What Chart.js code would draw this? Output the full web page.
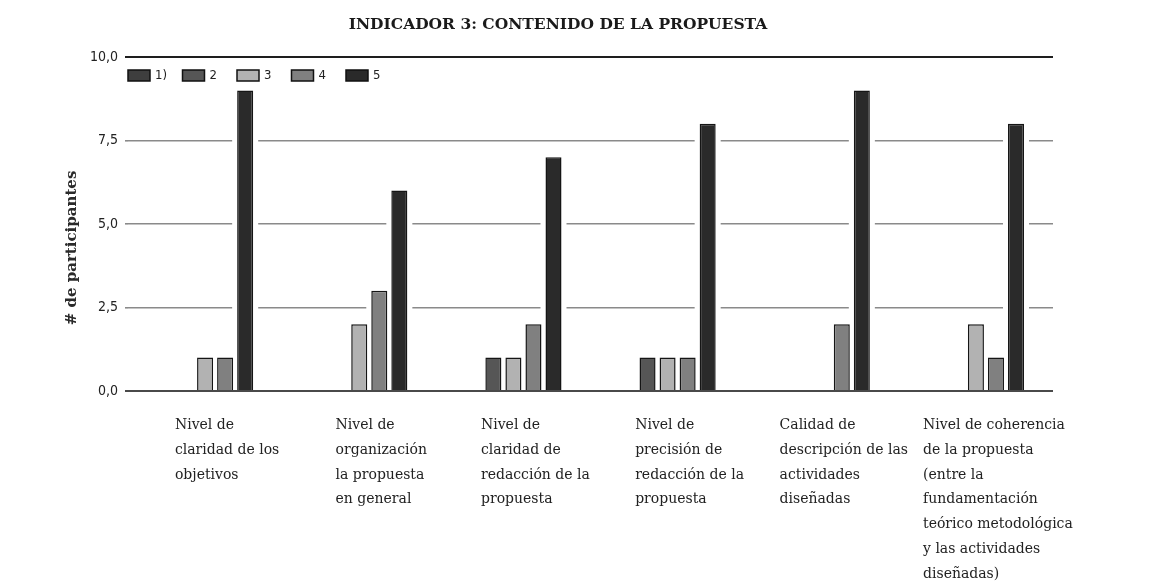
<!DOCTYPE html>
<html>
<head>
<meta charset="utf-8">
<script src="https://cdn.jsdelivr.net/npm/chart.js@4/dist/chart.umd.min.js"></script>
<style>
  body { margin: 0; background: #fff; }
  #wrap { width: 1151px; height: 586px; }
</style>
</head>
<body>
<div id="wrap"><canvas id="chart" width="1151" height="586"></canvas></div>
<script>
// Categories (each one already split in lines like the original)
const categories = [
    ['Nivel de', 'claridad de los', 'objetivos'],
    ['Nivel de', 'organización', 'la propuesta', 'en general'],
    ['Nivel de', 'claridad de', 'redacción de la', 'propuesta'],
    ['Nivel de', 'precisión de', 'redacción de la', 'propuesta'],
    ['Calidad de', 'descripción de las', 'actividades', 'diseñadas'],
    ['Nivel de coherencia', 'de la propuesta', '(entre la', 'fundamentación', 'teórico metodológica', 'y las actividades', 'diseñadas)']
];

const seriesNames = ['1)', '2', '3', '4', '5'];
const serie1 = [0, 0, 0, 0, 0, 0];
const serie2 = [0, 0, 1, 1, 0, 0];
const serie3 = [1, 2, 1, 1, 0, 2];
const serie4 = [1, 3, 2, 1, 2, 1];
const serie5 = [9, 6, 7, 8, 9, 8];

const yTicks = [0, 2.5, 5, 7.5, 10];

const chartTitle = 'INDICADOR 3: CONTENIDO DE LA PROPUESTA';
const yTitle = '# de participantes';

const colors = ['#3e3e3e', '#565656', '#b2b2b2', '#808080', '#2a2a2a'];

const SERIF = '"DejaVu Serif", "Liberation Serif", serif';
const NARROW = '"DejaVu Sans Condensed", "Liberation Sans Narrow", sans-serif';

const allSeries = [serie1, serie2, serie3, serie4, serie5];

const datasets = allSeries.map((data, i) => ({
    label: seriesNames[i],
    data: data,
    backgroundColor: colors[i],
    borderColor: '#151515',
    borderWidth: 1.5,
    barPercentage: 0.8,
    categoryPercentage: 0.65
}));

// white halo round the bars, the gridlines stop short of them in the original
const haloPlugin = {
    id: 'halo',
    beforeDatasetsDraw(chart) {
        const ctx = chart.ctx;
        ctx.save();
        ctx.fillStyle = '#fff';
        chart.data.datasets.forEach((ds, i) => {
            chart.getDatasetMeta(i).data.forEach((bar, j) => {
                if (!ds.data[j]) return;
                const p = bar.getProps(['x', 'y', 'base', 'width'], true);
                ctx.fillRect(p.x - p.width / 2 - 5, p.y, p.width + 10, p.base - p.y - 1.5);
            });
        });
        ctx.restore();
    }
};

// titles, legend and multi-line category labels (left aligned like the original)
const textPlugin = {
    id: 'textPlugin',
    afterDraw(chart) {
        const ctx = chart.ctx;
        const area = chart.chartArea;
        const xScale = chart.scales.x;
        ctx.save();

        // title
        ctx.fillStyle = '#1a1a1a';
        ctx.font = 'bold 15.5px ' + SERIF;
        ctx.textAlign = 'center';
        ctx.textBaseline = 'middle';
        ctx.fillText(chartTitle, 558, 25);

        // y title
        ctx.save();
        ctx.translate(72, 248);
        ctx.rotate(-Math.PI / 2);
        ctx.font = 'bold 15px ' + SERIF;
        ctx.fillStyle = '#2a2a2a';
        ctx.fillText(yTitle, 0, 0);
        ctx.restore();

        // legend
        ctx.font = '13px ' + NARROW;
        ctx.textAlign = 'left';
        ctx.textBaseline = 'middle';
        seriesNames.forEach((name, i) => {
            const bx = area.left + i * 54.5;
            const by = area.top + 13;
            ctx.fillStyle = colors[i];
            ctx.fillRect(bx, by, 22, 11);
            ctx.strokeStyle = '#111';
            ctx.lineWidth = 1.5;
            ctx.strokeRect(bx, by, 22, 11);
            ctx.fillStyle = '#222';
            ctx.fillText(name, bx + 27, by + 6);
        });

        // category labels
        ctx.font = '14px ' + SERIF;
        ctx.fillStyle = '#222';
        ctx.textBaseline = 'alphabetic';
        categories.forEach((lines, i) => {
            const cx = xScale.getPixelForTick(i);
            const w = Math.max(...lines.map(l => ctx.measureText(l).width));
            const left = cx + 22 - w / 2;
            lines.forEach((line, j) => {
                ctx.fillText(line, left, 429 + j * 24.8);
            });
        });

        ctx.restore();
    }
};

new Chart(document.getElementById('chart'), {
    type: 'bar',
    data: {
        labels: categories.map(c => c.join(' ')),
        datasets: datasets
    },
    options: {
        responsive: false,
        animation: false,
        layout: { padding: { top: 57, right: 98, bottom: 195, left: 0 } },
        plugins: {
            legend: { display: false },
            title: { display: false },
            tooltip: { enabled: false }
        },
        scales: {
            x: {
                grid: { display: false, drawTicks: false },
                border: { display: false },
                ticks: { display: false },
                afterFit: s => { s.height = 0; }
            },
            y: {
                min: 0,
                max: 10,
                afterFit: s => { s.width = 128; },
                afterBuildTicks: s => { s.ticks = yTicks.map(v => ({ value: v })); },
                border: { display: false },
                grid: {
                    tickLength: 3,
                    color: c => c.tick && c.tick.value === 10 ? '#1e1e1e' : (c.tick && c.tick.value === 0 ? '#4a4a4a' : '#8a8a8a'),
                    lineWidth: c => c.tick && (c.tick.value === 10 || c.tick.value === 0) ? 2 : 1.6
                },
                ticks: {
                    padding: 7,
                    color: '#222',
                    font: { family: NARROW, size: 14 },
                    callback: v => Number(v).toFixed(1).replace('.', ',')
                }
            }
        }
    },
    plugins: [haloPlugin, textPlugin]
});
</script>
</body>
</html>
